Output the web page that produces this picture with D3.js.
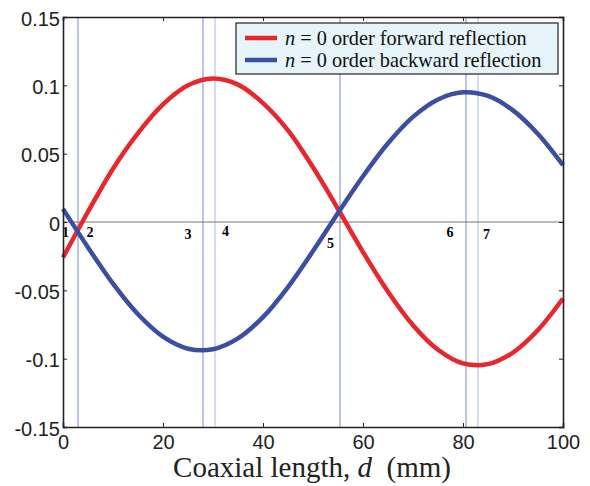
<!DOCTYPE html>
<html>
<head>
<meta charset="utf-8">
<script src="https://cdn.jsdelivr.net/npm/d3@7"></script>
<style>
  body { margin: 0; background: #fff; }
  svg { display: block; }
</style>
</head>
<body>
<svg id="chart" width="590" height="486"></svg>
<script>
// coaxial length (mm) where the curves were read
const lengths = [0, 5, 10, 15, 20, 25, 30, 35, 40, 45, 50, 55, 60, 65, 70, 75, 80, 85, 90, 95, 100];
// n = 0 order forward reflection
const forward = [-0.026, 0.0075, 0.039, 0.065, 0.086, 0.100, 0.105, 0.1005, 0.087, 0.067, 0.040, 0.0095, -0.022, -0.051, -0.0755, -0.0935, -0.1035, -0.104, -0.0955, -0.079, -0.056];
// n = 0 order backward reflection
const backward = [0.0096, -0.0186, -0.0451, -0.0675, -0.0839, -0.0927, -0.0931, -0.0852, -0.0696, -0.0476, -0.0213, 0.0066, 0.0335, 0.0576, 0.0769, 0.0897, 0.0949, 0.0922, 0.0817, 0.0644, 0.0416];

const seriesNames = ["order forward reflection", "order backward reflection"];
const xTicks = [0, 20, 40, 60, 80, 100];
const yTicks = [-0.15, -0.1, -0.05, 0, 0.05, 0.1, 0.15];
const yTickLabels = ["-0.15", "-0.1", "-0.05", "0", "0.05", "0.1", "0.15"];

// marker lines and numbered points
const markerD = [3.0, 28.0, 30.4, 55.4, 80.6, 83.0];
const pointNames = ["1", "2", "3", "4", "5", "6", "7"];
const pointD = [0.5, 5.4, 25, 32.5, 53.5, 77.4, 84.7];
const pointV = [-0.008, -0.008, -0.0095, -0.0073, -0.0154, -0.008, -0.0095];

const svg = d3.select("#chart");

const x = d3.scaleLinear().domain([0, 100]).range([63, 563]);
const y = d3.scaleLinear().domain([-0.15, 0.15]).range([427, 17]);

const colors = ["#e8262d", "#3a4ea2"];

// marker lines
svg.selectAll(".marker")
    .data(markerD)
    .enter()
    .append("line")
    .attr("x1", d => x(d)).attr("x2", d => x(d))
    .attr("y1", y(0.15)).attr("y2", y(-0.15))
    .attr("stroke", (d, i) => (i === 2 || i === 5) ? "#bcc5e6" : "#8e9dd3")
    .attr("stroke-width", 1.2);

// zero line
svg.append("line")
    .attr("x1", x(0)).attr("x2", x(100))
    .attr("y1", y(0)).attr("y2", y(0))
    .attr("stroke", "#777")
    .attr("stroke-width", 1);

// curves
const line = d3.line()
    .x(d => x(d[0]))
    .y(d => y(d[1]))
    .curve(d3.curveCatmullRom.alpha(0.5));

[forward, backward].forEach((vals, i) => {
    svg.append("path")
        .datum(lengths.map((d, j) => [d, vals[j]]))
        .attr("d", line)
        .attr("fill", "none")
        .attr("stroke", colors[i])
        .attr("stroke-width", 4.5);
});

// numbered points
svg.selectAll(".pt")
    .data(pointNames)
    .enter()
    .append("text")
    .attr("x", (d, i) => x(pointD[i]))
    .attr("y", (d, i) => y(pointV[i]))
    .attr("text-anchor", "middle")
    .attr("dominant-baseline", "central")
    .style("font-family", "'Liberation Serif', 'Times New Roman', serif")
    .style("font-weight", "bold")
    .style("font-size", "14px")
    .text(d => d);

// axes box with inward ticks
const tickLen = 4;
const axisColor = "#222";
const axisB = d3.axisBottom(x).tickValues(xTicks).tickSize(-tickLen).tickPadding(8);
const axisT = d3.axisTop(x).tickValues(xTicks).tickSize(-tickLen).tickFormat("");
const axisL = d3.axisLeft(y).tickValues(yTicks).tickSize(-tickLen).tickPadding(3)
    .tickFormat((d, i) => yTickLabels[i]);
const axisR = d3.axisRight(y).tickValues(yTicks).tickSize(-tickLen).tickFormat("");

const gB = svg.append("g").attr("transform", `translate(0,${y(-0.15)})`).call(axisB);
const gT = svg.append("g").attr("transform", `translate(0,${y(0.15)})`).call(axisT);
const gL = svg.append("g").attr("transform", `translate(${x(0)},0)`).call(axisL);
const gR = svg.append("g").attr("transform", `translate(${x(100)},0)`).call(axisR);

[gB, gT, gL, gR].forEach(g => {
    g.select(".domain").attr("stroke", axisColor).attr("stroke-width", 1.6);
    g.selectAll(".tick line").attr("stroke", axisColor);
    g.selectAll("text")
        .attr("fill", "#222")
        .style("font-family", "'Liberation Sans', Arial, sans-serif")
        .style("font-size", "20px");
});
gL.selectAll("text").attr("dy", "0.4em");

// x axis title
const title = svg.append("text")
    .attr("x", 312)
    .attr("y", 477)
    .attr("text-anchor", "middle")
    .style("font-family", "'Liberation Serif', 'Times New Roman', serif")
    .style("font-size", "29px")
    .attr("fill", "#222");
title.append("tspan").text("Coaxial length, ");
title.append("tspan").style("font-style", "italic").text("d");
title.append("tspan").attr("xml:space", "preserve").text("  (mm)");

// legend
const legend = svg.append("g");
legend.append("rect")
    .attr("x", 236).attr("y", 23)
    .attr("width", 322).attr("height", 51)
    .attr("fill", "#e7f5fa")
    .attr("stroke", "#222")
    .attr("stroke-width", 1.2);

seriesNames.forEach((name, i) => {
    const ly = 38 + i * 22;
    legend.append("line")
        .attr("x1", 245).attr("x2", 277)
        .attr("y1", ly).attr("y2", ly)
        .attr("stroke", colors[i])
        .attr("stroke-width", 4.5);
    const t = legend.append("text")
        .attr("x", 285)
        .attr("y", ly)
        .attr("dominant-baseline", "central")
        .style("font-family", "'Liberation Serif', 'Times New Roman', serif")
        .style("font-size", "20.3px")
        .attr("fill", "#111");
    t.append("tspan").style("font-style", "italic").text("n");
    t.append("tspan").text(" = 0 " + name);
});
</script>
</body>
</html>
